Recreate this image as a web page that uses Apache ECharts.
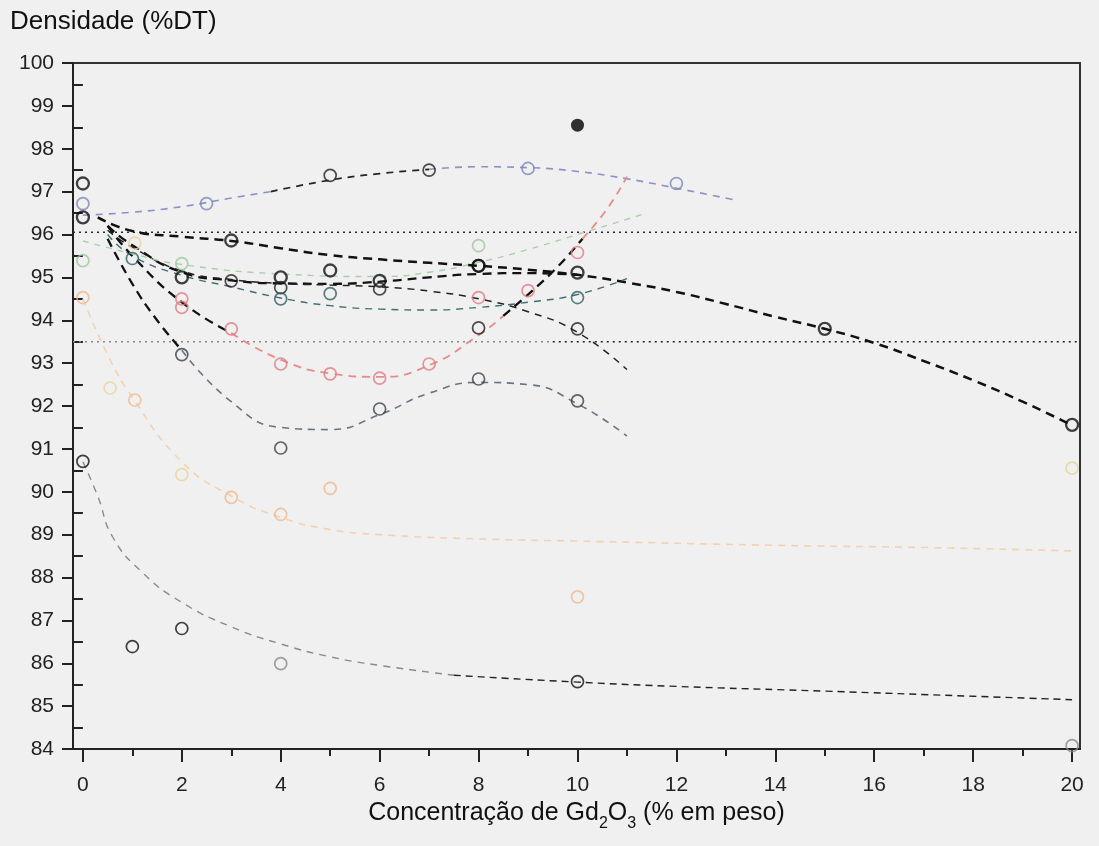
<!DOCTYPE html>
<html>
<head>
<meta charset="utf-8">
<title>Densidade vs Gd2O3</title>
<script src="https://cdn.jsdelivr.net/npm/echarts@6/dist/echarts.min.js"></script>
<style>
  html, body { margin: 0; padding: 0; background: #f0f0f0; }
  #chart { width: 1099px; height: 846px; }
</style>
</head>
<body>
<div id="chart"></div>
<script>
// Measured points (x = % Gd2O3 by weight, y = density %TD) and fitted trend curves.
// Some curves are split where the drawn dash colour changes along the curve.
const bluePts      = [[0, 96.72], [2.5, 96.72], [9, 97.54], [12, 97.19]];
const blueBlackPts = [[5, 97.38], [7, 97.5]];
const blueTrendA   = [[0, 96.45], [1, 96.52], [2, 96.65], [3, 96.85], [3.8, 97.0]];
const blueTrendB   = [[3.8, 97.0], [5, 97.27], [6, 97.42], [7, 97.52]];
const blueTrendC   = [[7, 97.52], [8, 97.58], [9, 97.56], [10, 97.47], [11, 97.3], [12, 97.08], [13.2, 96.8]];

const filledPt     = [[10, 98.55]];

const boldPts      = [[0, 97.19], [3, 95.86], [8, 95.27], [10, 95.11], [15, 93.8], [20, 91.56]];
const boldTrend    = [[0.3, 96.4], [1, 96.08], [2, 95.95], [3, 95.85], [4, 95.68], [5, 95.52], [6, 95.42], [7, 95.34], [8, 95.27], [9, 95.18], [10, 95.06], [11, 94.88], [12, 94.66], [13, 94.38], [14, 94.08], [15, 93.8], [16, 93.47], [17, 93.05], [18, 92.6], [19, 92.1], [20, 91.55]];

const midPts       = [[0, 96.4], [2, 95.0], [4, 95.0], [5, 95.16], [6, 94.92], [8, 95.27]];
const midTrend     = [[0.5, 96.2], [1, 95.75], [2, 95.12], [3, 94.93], [4, 94.86], [5, 94.85], [6, 94.9], [7, 95.0], [8, 95.08], [9, 95.1], [10, 95.06]];

const thinPts      = [[3, 94.92], [4, 94.76], [6, 94.73], [8, 93.82], [10, 93.8]];
const thinTrend    = [[0.5, 96.1], [1, 95.7], [2, 95.15], [3, 94.95], [4, 94.86], [5, 94.82], [6, 94.78], [7, 94.68], [8, 94.5], [9, 94.2], [10, 93.72], [11, 92.85]];

const tealPts      = [[1, 95.44], [4, 94.5], [5, 94.62], [10, 94.53]];
const tealTrend    = [[0.5, 96.0], [1, 95.5], [2, 95.05], [3, 94.78], [4, 94.52], [5, 94.34], [6, 94.26], [7, 94.24], [8, 94.3], [9, 94.42], [10, 94.6], [11, 94.97]];

const redPts       = [[2, 94.5], [2, 94.3], [3, 93.8], [4, 92.98], [5, 92.75], [6, 92.65], [7, 92.98], [8, 94.53], [9, 94.69], [10, 95.58]];
const redTrendA    = [[0.5, 96.2], [1, 95.5], [2, 94.42], [3, 93.7]];
const redTrendB    = [[3, 93.7], [4, 93.08], [5, 92.76], [6, 92.68], [7, 92.95], [8, 93.65], [8.5, 94.1]];
const redTrendC    = [[8.5, 94.1], [9, 94.6], [9.6, 95.25], [10.1, 95.9]];
const redTrendD    = [[10.1, 95.9], [10.6, 96.6], [11, 97.35]];

const greenPts     = [[0, 95.39], [2, 95.32], [8, 95.74]];
const greenTrend   = [[0, 95.85], [1, 95.55], [2, 95.3], [4, 95.08], [6, 95.02], [7, 95.12], [8, 95.35], [9, 95.65], [10, 96.0], [11.4, 96.5]];

const slatePts     = [[2, 93.2], [4, 91.02], [6, 91.93], [8, 92.63], [10, 92.12]];
const slateTrendA  = [[0.5, 95.9], [1, 94.85], [1.5, 94.0], [2, 93.3]];
const slateTrendB  = [[2, 93.3], [3, 92.1], [4, 91.5], [5, 91.45], [6, 91.8], [7, 92.3], [8, 92.55], [9, 92.5], [10, 92.05], [11, 91.3]];

const orangePts    = [[0, 94.53], [1.05, 92.14], [3, 89.87], [4, 89.47], [5, 90.08], [10, 87.55]];
const yellowPts    = [[0.55, 92.42], [1.05, 95.8], [2, 90.4], [20, 90.55]];
const orangeTrend  = [[0, 94.5], [0.5, 93.2], [1, 92.2], [2, 90.7], [3, 89.9], [4, 89.4], [5, 89.12], [6, 89.0], [8, 88.9], [10, 88.85], [14, 88.75], [17, 88.7], [20, 88.62]];

const grayBlackPts = [[0, 90.71], [1, 86.39], [2, 86.81], [10, 85.57]];
const grayPts      = [[4, 85.99], [20, 84.08]];
const grayTrendA   = [[0, 90.7], [0.3, 89.9], [0.6, 88.95], [1.2, 88.12], [2, 87.42], [3, 86.85], [4, 86.45], [5, 86.15], [6, 85.95], [7.5, 85.72]];
const grayTrendB   = [[7.5, 85.72], [10, 85.56], [12, 85.46], [15, 85.35], [18, 85.23], [20, 85.15]];

// Horizontal reference limits and where their dash colour changes
const upperLimit = 96.05;
const lowerLimit = 93.5;
const lowerLimitSplit = 9.5;

const xMin = -0.2, xMax = 20.16;
const xLabelValues = [0, 2, 4, 6, 8, 10, 12, 14, 16, 18, 20];
const xMinorValues = [1, 3, 5, 7, 9, 11, 13, 15, 17, 19];
const yLabelValues = [84, 85, 86, 87, 88, 89, 90, 91, 92, 93, 94, 95, 96, 97, 98, 99, 100];
const yMinorValues = [84.5, 85.5, 86.5, 87.5, 88.5, 89.5, 90.5, 91.5, 92.5, 93.5, 94.5, 95.5, 96.5, 97.5, 98.5, 99.5];

const FONT = '"Liberation Sans", Arial, sans-serif';

function trend(name, data, color, width, dash) {
  return {
    name: name, type: 'line', data: data, smooth: 0.5, showSymbol: false,
    silent: true, z: 2,
    lineStyle: { color: color, width: width, type: dash }
  };
}
function points(name, data, color, opts) {
  opts = opts || {};
  return {
    name: name, type: 'scatter', data: data, z: 5,
    symbol: 'circle',
    symbolSize: opts.size || 12,
    itemStyle: opts.filled ? { color: color } :
      { color: 'rgba(0,0,0,0)', borderColor: color, borderWidth: opts.bw || 1.7 }
  };
}
function hLine(name, y, x0, x1, color) {
  return {
    name: name, type: 'line', data: [[x0, y], [x1, y]], showSymbol: false, silent: true, z: 1,
    lineStyle: { color: color, width: 1.5, type: [2, 4] }
  };
}

const chart = echarts.init(document.getElementById('chart'));
chart.setOption({
  backgroundColor: '#f0f0f0',
  animation: false,
  grid: { left: 73, right: 19, top: 63, bottom: 97, show: true, borderColor: '#333', borderWidth: 2, backgroundColor: 'transparent' },
  graphic: [{
    type: 'text', left: 10, top: 9,
    style: { text: 'Densidade (%DT)', font: '26px ' + FONT, fill: '#111' }
  }],
  xAxis: [{
    type: 'value', min: xMin, max: xMax,
    name: '{a|Concentração de Gd}{s|2}{a|O}{s|3}{a| (% em peso)}',
    nameLocation: 'middle', nameGap: 38,
    nameTextStyle: {
      rich: {
        a: { fontFamily: FONT, fontSize: 25, color: '#111', lineHeight: 34, verticalAlign: 'bottom', padding: [0, 0, 6, 0] },
        s: { fontFamily: FONT, fontSize: 16, color: '#111', lineHeight: 16, verticalAlign: 'bottom' }
      }
    },
    axisLine: { onZero: false, lineStyle: { color: '#222', width: 2 } },
    axisTick: { show: true, customValues: xLabelValues, length: 13, lineStyle: { color: '#222', width: 2 } },
    splitLine: { show: false },
    axisLabel: { customValues: xLabelValues, margin: 26, fontFamily: FONT, fontSize: 21, color: '#222' }
  }, {
    type: 'value', min: xMin, max: xMax, position: 'bottom',
    axisLine: { show: false },
    axisTick: { show: true, customValues: xMinorValues, length: 7, lineStyle: { color: '#222', width: 2 } },
    axisLabel: { show: false },
    splitLine: { show: false }
  }],
  yAxis: [{
    type: 'value', min: 84, max: 100,
    axisLine: { show: true, onZero: false, lineStyle: { color: '#222', width: 2 } },
    axisTick: { show: true, customValues: yLabelValues, length: 11, lineStyle: { color: '#222', width: 2 } },
    splitLine: { show: false },
    axisLabel: { customValues: yLabelValues, margin: 19, fontFamily: FONT, fontSize: 21, color: '#222' }
  }, {
    type: 'value', min: 84, max: 100, position: 'left',
    axisLine: { show: false },
    axisTick: { show: true, customValues: yMinorValues, length: 9, lineStyle: { color: '#222', width: 2 } },
    axisLabel: { show: false },
    splitLine: { show: false }
  }],
  series: [
    hLine('limite superior', upperLimit, xMin, xMax, '#2a2a2a'),
    hLine('limite inferior', lowerLimit, xMin, lowerLimitSplit, '#8a8a8a'),
    hLine('limite inferior', lowerLimit, lowerLimitSplit, xMax, '#222'),

    trend('azul', blueTrendA, '#8a93c4', 1.6, [7, 6]),
    trend('azul', blueTrendB, '#222', 1.7, [7, 6]),
    trend('azul', blueTrendC, '#8a93c4', 1.6, [7, 6]),
    trend('preto forte', boldTrend, '#111', 2.5, [9, 6]),
    trend('preto médio', midTrend, '#111', 2.3, [9, 6]),
    trend('preto fino', thinTrend, '#222', 1.5, [7, 6]),
    trend('ciano', tealTrend, '#3f6f70', 1.4, [7, 6]),
    trend('vermelho', redTrendA, '#111', 2.3, [9, 6]),
    trend('vermelho', redTrendB, '#e88a8a', 1.8, [8, 6]),
    trend('vermelho', redTrendC, '#111', 2.3, [9, 6]),
    trend('vermelho', redTrendD, '#e88a8a', 1.8, [8, 6]),
    trend('verde', greenTrend, '#a8d0a8', 1.4, [6, 6]),
    trend('cinza-azulado', slateTrendA, '#111', 2.3, [9, 6]),
    trend('cinza-azulado', slateTrendB, '#6a7480', 1.6, [7, 6]),
    trend('laranja', orangeTrend, '#f2d2b0', 1.6, [7, 6]),
    trend('cinza', grayTrendA, '#8a8a8a', 1.4, [7, 6]),
    trend('cinza', grayTrendB, '#222', 1.4, [7, 5]),

    points('azul', bluePts, '#7c86b8'),
    points('azul (preto)', blueBlackPts, '#222'),
    points('ponto cheio', filledPt, '#000', { filled: true, size: 13 }),
    points('preto forte', boldPts, '#111', { bw: 2.3 }),
    points('preto médio', midPts, '#111', { bw: 2.3 }),
    points('preto fino', thinPts, '#222'),
    points('ciano', tealPts, '#2f5f60'),
    points('vermelho', redPts, '#e07a80'),
    points('verde', greenPts, '#9cc89c'),
    points('cinza-azulado', slatePts, '#3a3f48'),
    points('laranja', orangePts, '#f0b890'),
    points('amarelo', yellowPts, '#e8d49a'),
    points('cinza (preto)', grayBlackPts, '#111'),
    points('cinza', grayPts, '#8a8a8a')
  ]
});
</script>
</body>
</html>
